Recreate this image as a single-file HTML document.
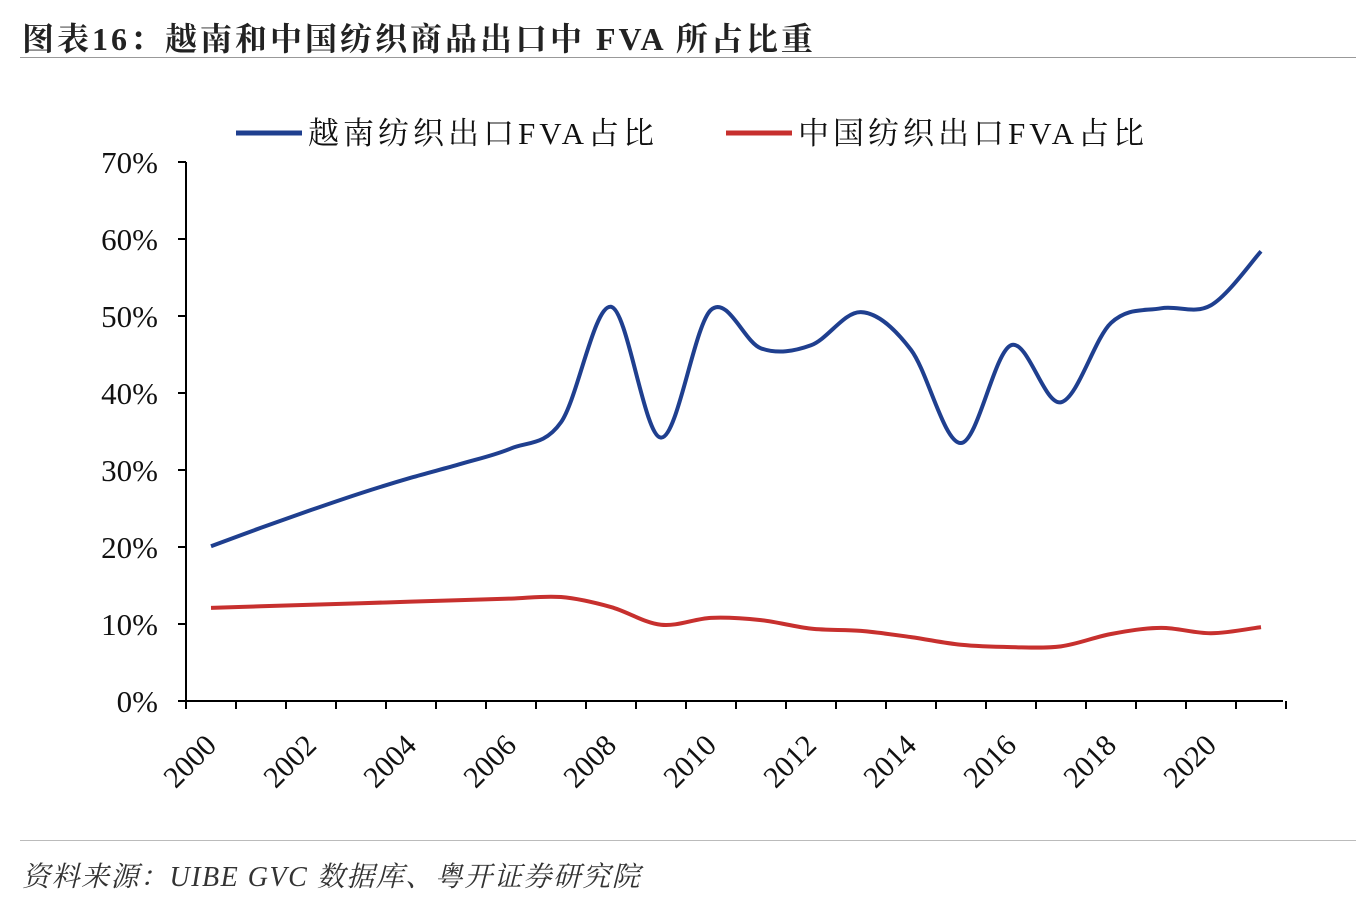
<!DOCTYPE html>
<html><head><meta charset="utf-8"><style>
body{margin:0;background:#fff;width:1366px;height:904px;overflow:hidden;font-family:"Liberation Serif","Noto Serif CJK SC",serif}
</style></head><body>
<div style="position:absolute;left:22px;top:14px;font-size:32px;letter-spacing:3px;font-weight:bold;color:#222;font-family:'Liberation Serif','Noto Serif CJK SC',serif">图表16：越南和中国纺织商品出口中 FVA 所占比重</div>
<div style="position:absolute;left:20px;top:57px;width:1336px;height:1px;background:#999"></div>
<div style="position:absolute;left:20px;top:840px;width:1336px;height:1px;background:#bbb"></div>
<div style="position:absolute;left:22px;top:855px;font-size:28px;letter-spacing:1.5px;font-style:italic;color:#333">资料来源：UIBE GVC 数据库、粤开证券研究院</div>
<svg id="chart" width="1366" height="904" style="position:absolute;left:0;top:0"></svg>
<script>
const years=[2000,2001,2002,2003,2004,2005,2006,2007,2008,2009,2010,2011,2012,2013,2014,2015,2016,2017,2018,2019,2020,2021];
const vietnam=[20.1,22.5,24.8,27.0,29.0,30.8,32.8,36.2,51.2,34.2,50.8,45.8,46.2,50.5,45.6,33.5,46.2,38.8,49.1,51.0,51.4,58.4];
const china=[12.1,12.3,12.5,12.7,12.9,13.1,13.3,13.5,12.2,9.9,10.8,10.5,9.4,9.1,8.3,7.3,7.0,7.1,8.7,9.5,8.8,9.6];
const yTicks=[0,10,20,30,40,50,60,70];
const xLabels=[2000,2002,2004,2006,2008,2010,2012,2014,2016,2018,2020];
const NS='http://www.w3.org/2000/svg',svg=document.getElementById('chart');
const x0=186,step=50,yBase=701,yPer=7.7;
const X=i=>x0+step*(i+0.5), Y=v=>yBase-v*yPer;
function el(t,a,p){const e=document.createElementNS(NS,t);for(const k in a)e.setAttribute(k,a[k]);(p||svg).appendChild(e);return e;}
const ax=el('path',{d:`M${x0} ${Y(70)}V${yBase}H1283`,stroke:'#000','stroke-width':2,fill:'none'});


yTicks.forEach(t=>{
 const l=el('line',{x1:x0-8,x2:x0,y1:Y(t),y2:Y(t),stroke:'#000','stroke-width':2});
 
 
 const tx=el('text',{x:x0-28,y:Y(t)+11,'text-anchor':'end','font-size':31,fill:'#111'});
 tx.textContent=t+'%';
 
 
});
for(let i=0;i<=22;i++){
 const l=el('line',{x1:x0+step*i,x2:x0+step*i,y1:yBase,y2:yBase+8,stroke:'#000','stroke-width':2});
 
 
}
xLabels.forEach(yr=>{
 const xx=x0+step*(yr-2000)+32, yy=yBase+46;
 const tx=el('text',{x:xx,y:yy,'text-anchor':'end','font-size':30,fill:'#111',transform:`rotate(-45 ${xx} ${yy})`});
 tx.textContent=yr;
 
 
});
function smooth(vals){
 const p=vals.map((v,i)=>[X(i),Y(v)]);let d=`M${p[0][0]} ${p[0][1]}`;
 for(let i=0;i<p.length-1;i++){
  const a=p[i-1]||p[i],b=p[i],c=p[i+1],e=p[i+2]||c,t=1/6;
  d+=`C${b[0]+(c[0]-a[0])*t} ${b[1]+(c[1]-a[1])*t} ${c[0]-(e[0]-b[0])*t} ${c[1]-(e[1]-b[1])*t} ${c[0]} ${c[1]}`;
 }
 return d;
}
const lb=el('path',{d:smooth(vietnam),stroke:'#1f3f8f','stroke-width':4,fill:'none'});


const lr=el('path',{d:smooth(china),stroke:'#c7302e','stroke-width':4,fill:'none'});


[[236,'#1f3f8f','越南纺织出口FVA占比','legend-vietnam'],[726,'#c7302e','中国纺织出口FVA占比','legend-china']].forEach(([lx,c,t,n])=>{
 const g=el('g',{});
 
 
 el('line',{x1:lx,x2:lx+66,y1:133,y2:133,stroke:c,'stroke-width':5},g);
 const tx=el('text',{x:lx+72,y:144,'font-size':31,'letter-spacing':'4',fill:'#111'},g);tx.textContent=t;
});
</script>
</body></html>
